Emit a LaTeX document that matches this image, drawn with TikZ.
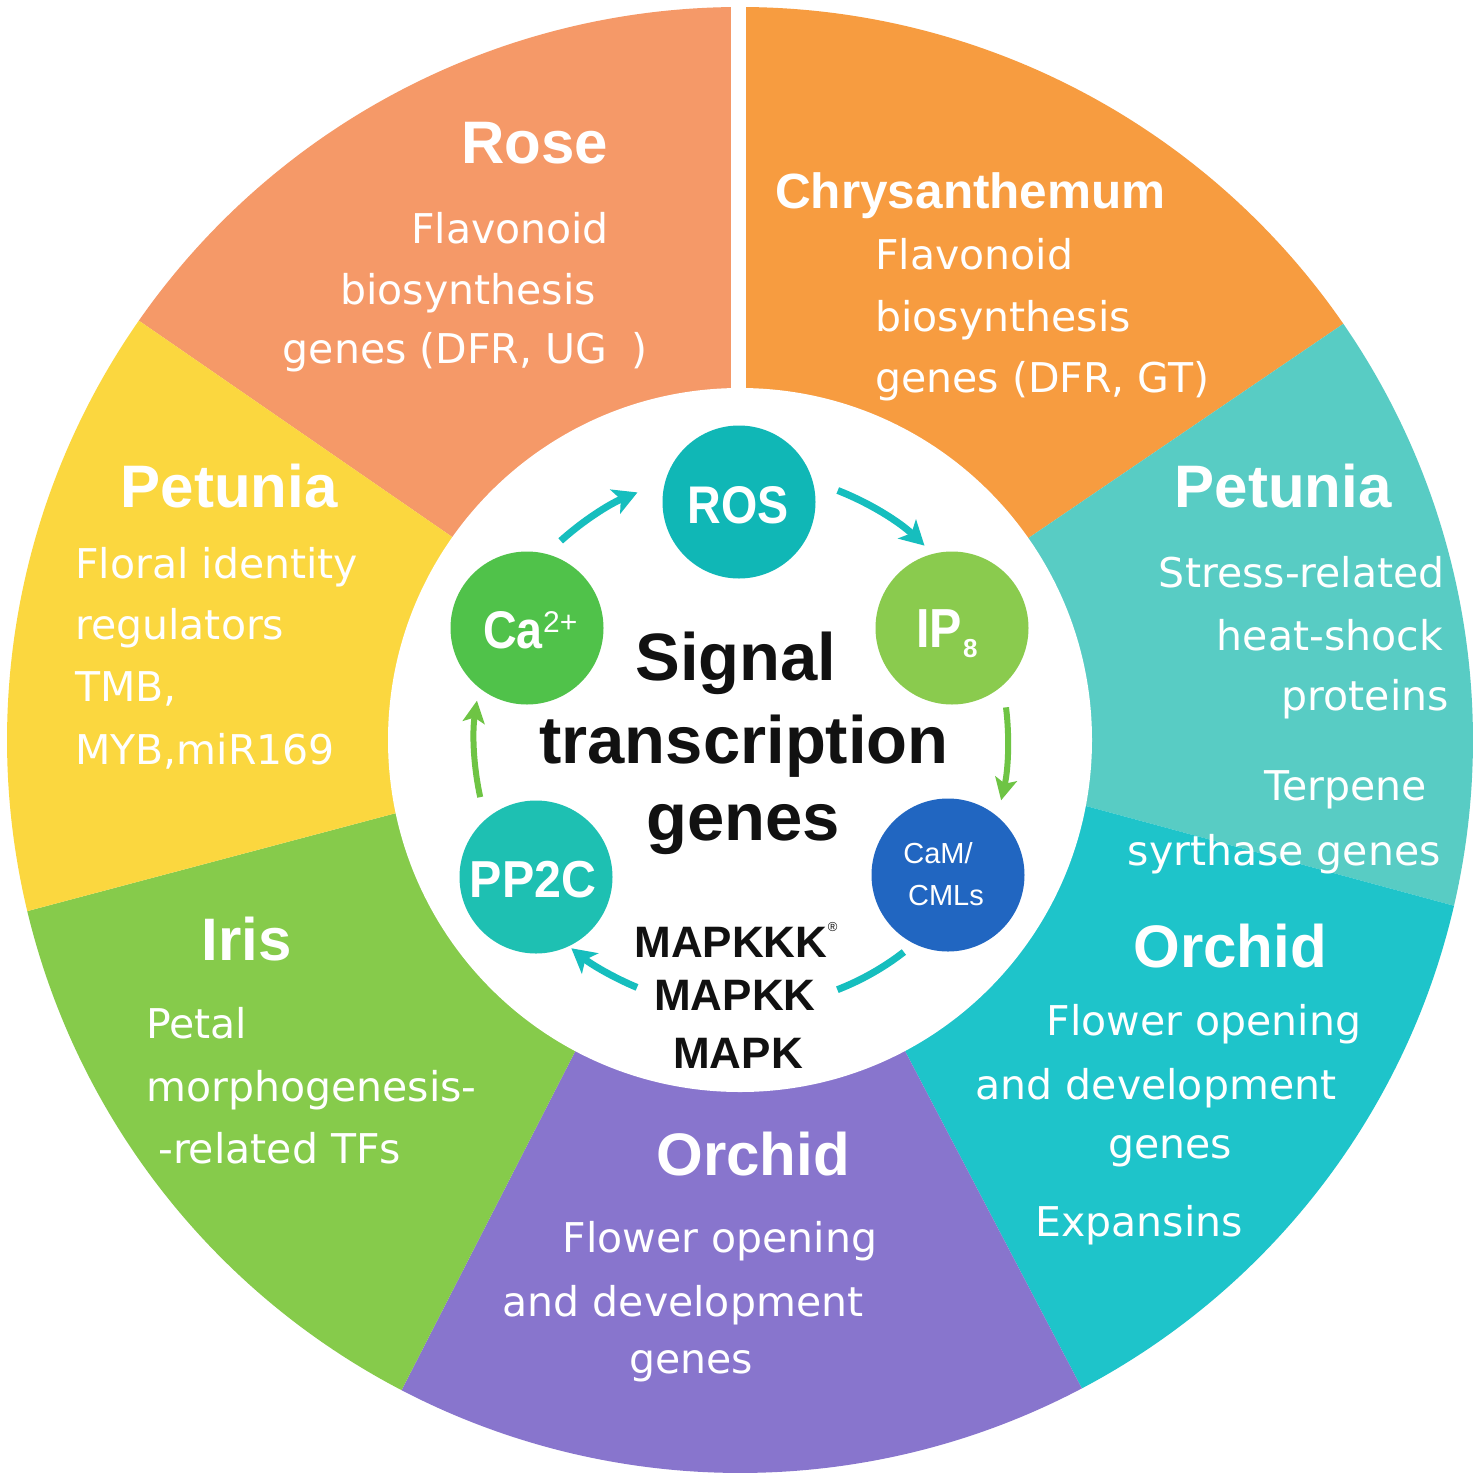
\documentclass[tikz,border=0pt]{standalone}
\usepackage{fontspec}
\setmainfont{DejaVu Sans}
\newfontfamily\lib{Liberation Sans}
\newfontfamily\libc{Liberation Sans}[FakeStretch=0.88]
\newfontfamily\libw{Liberation Sans}[FakeStretch=0.93]
\usetikzlibrary{arrows.meta}

\definecolor{roseC}{RGB}{245,153,104}
\definecolor{chrysC}{RGB}{247,156,64}
\definecolor{petRC}{RGB}{88,204,196}
\definecolor{orchRC}{RGB}{30,196,202}
\definecolor{purpC}{RGB}{136,117,205}
\definecolor{irisC}{RGB}{134,203,75}
\definecolor{petLC}{RGB}{251,215,63}
\definecolor{rosDisc}{RGB}{16,183,182}
\definecolor{ipDisc}{RGB}{138,203,78}
\definecolor{camDisc}{RGB}{33,102,193}
\definecolor{ppDisc}{RGB}{30,192,178}
\definecolor{caDisc}{RGB}{80,194,74}
\definecolor{tealArr}{RGB}{22,190,190}
\definecolor{greenArr}{RGB}{110,196,68}
\definecolor{inkC}{RGB}{17,17,17}

\newcommand\myfs[1]{\fontsize{#1}{#1}\selectfont}
\newcommand\sector[5]{%
  \fill[#1] (0,0) -- (#4:352) -- (#2:733) arc[start angle=#2, end angle=#3, radius=733] -- (#5:352) -- cycle;}

\tikzset{
  bodytxt/.style={text=white, inner sep=0pt, font=\myfs{41}},
  headtxt/.style={text=white, inner sep=0pt, font=\lib\bfseries\myfs{60}},
  disc/.style={circle, minimum size=153pt, inner sep=0pt},
  disctxt/.style={text=white, inner sep=0pt, font=\libc\bfseries\myfs{53}},
  smalltxt/.style={text=white, inner sep=0pt, font=\lib\myfs{30}},
  centertxt/.style={text=inkC, inner sep=0pt, font=\lib\bfseries\myfs{67}},
  mapktxt/.style={text=inkC, inner sep=0pt, font=\lib\bfseries\myfs{44}},
  tealarrow/.style={draw=tealArr, line width=7pt, -{Stealth[length=24pt,width=26pt,inset=6pt]}},
  tealline/.style={draw=tealArr, line width=7pt},
  greenarrow/.style={draw=greenArr, line width=6pt, -{Stealth[length=22pt,width=22pt,inset=5pt]}}
}

\begin{document}
\begin{tikzpicture}[x=1pt,y=-1pt]
\useasboundingbox (0,0) rectangle (1476,1478);
\fill[white] (0,0) rectangle (1476,1478);

\begin{scope}[shift={(740,740)}]
  \sector{roseC}{-90}{-145.1}{-90}{-144.8}
  \sector{chrysC}{-34.6}{-90}{-35}{-90}
  \sector{petRC}{13.07}{-34.6}{10.8}{-35}
  \sector{orchRC}{62.2}{13.07}{62.05}{10.8}
  \sector{purpC}{117.5}{62.2}{117.9}{62.05}
  \sector{irisC}{166.5}{117.5}{168}{117.9}
  \sector{petLC}{214.9}{166.5}{215.2}{168}
\end{scope}
\fill[white] (731,0) rectangle (746,420);
\fill[white] (740,740) circle[radius=352];

% ---- Rose
\node[headtxt, anchor=base] (roseH) at (535,163) {Rose};
\node[bodytxt, anchor=base] (rose1) at (510,243) {Flavonoid};
\node[bodytxt, anchor=base] (rose2) at (468,304) {biosynthesis};
\node[bodytxt, anchor=base] (rose3) at (465,363) {genes (DFR, UG\hspace{24pt})};

% ---- Chrysanthemum
\node[headtxt, font=\lib\bfseries\myfs{49.5}, anchor=base west] (chrH) at (775,208) {Chrysanthemum};
\node[bodytxt, anchor=base west] (chr1) at (875,269) {Flavonoid};
\node[bodytxt, anchor=base west] (chr2) at (875,331) {biosynthesis};
\node[bodytxt, anchor=base west] (chr3) at (875,392) {genes (DFR, GT)};

% ---- Petunia (right)
\node[headtxt, anchor=base] (petRH) at (1283,507) {Petunia};
\node[bodytxt, anchor=base east] (petR1) at (1445,587) {Stress-related};
\node[bodytxt, anchor=base east] (petR2) at (1443,650) {heat-shock};
\node[bodytxt, anchor=base east] (petR3) at (1449,710) {proteins};
\node[bodytxt, anchor=base east] (petR4) at (1427,800) {Terpene};
\node[bodytxt, anchor=base east] (petR5) at (1441,865) {syrthase genes};

% ---- Orchid (right)
\node[headtxt, anchor=base] (orRH) at (1230,967) {Orchid};
\node[bodytxt, anchor=base] (orR1) at (1204,1035) {Flower opening};
\node[bodytxt, anchor=base] (orR2) at (1156,1099) {and development};
\node[bodytxt, anchor=base] (orR3) at (1170,1158) {genes};
\node[bodytxt, anchor=base] (orR4) at (1139,1236) {Expansins};

% ---- Orchid (bottom)
\node[headtxt, anchor=base] (orBH) at (753,1175) {Orchid};
\node[bodytxt, anchor=base] (orB1) at (720,1252) {Flower opening};
\node[bodytxt, anchor=base] (orB2) at (683,1316) {and development};
\node[bodytxt, anchor=base] (orB3) at (691,1373) {genes};

% ---- Iris
\node[headtxt, anchor=base] (irisH) at (247,960) {Iris};
\node[bodytxt, anchor=base west] (iris1) at (146,1038) {Petal};
\node[bodytxt, anchor=base west] (iris2) at (146,1101) {morphogenesis-};
\node[bodytxt, anchor=base west] (iris3) at (158,1163) {-related TFs};

% ---- Petunia (left)
\node[headtxt, anchor=base] (petLH) at (229,507) {Petunia};
\node[bodytxt, anchor=base west] (petL1) at (75,578) {Floral identity};
\node[bodytxt, anchor=base west] (petL2) at (75,639) {regulators};
\node[bodytxt, anchor=base west] (petL3) at (75,701) {TMB,};
\node[bodytxt, anchor=base west] (petL4) at (75,764) {MYB,miR169};

% ---- discs
\node[disc, fill=rosDisc] (ros) at (739,502) {};
\node[disc, fill=ipDisc] (ip) at (952,628) {};
\node[disc, fill=camDisc] (cam) at (948,875) {};
\node[disc, fill=ppDisc] (pp) at (536,877) {};
\node[disc, fill=caDisc] (ca) at (527,628) {};

\node[disctxt, anchor=base] (rosT) at (738,523) {ROS};
\node[disctxt, anchor=base east] (caT) at (543,648) {Ca};
\node[smalltxt, anchor=base west] (caS) at (543,632) {2+};
\node[disctxt, font=\libc\bfseries\myfs{55}, anchor=base east] (ipT) at (962,647) {IP};
\node[smalltxt, font=\lib\bfseries\myfs{26}, anchor=base west] (ipS) at (963,657) {8};
\node[disctxt, font=\libw\bfseries\myfs{52}, anchor=base] (ppT) at (533,897) {PP2C};
\node[smalltxt, font=\lib\myfs{29}, anchor=base] (camT1) at (938,863) {CaM/};
\node[smalltxt, font=\lib\myfs{29}, anchor=base] (camT2) at (946,905) {CMLs};

% ---- centre text
\node[centertxt, anchor=base] (sig1) at (736,680) {Signal};
\node[centertxt, anchor=base] (sig2) at (744,763) {transcription};
\node[centertxt, anchor=base] (sig3) at (743,840) {genes};

\node[mapktxt, anchor=base] (mk1) at (731,957) {MAPKKK};
\node[text=inkC, inner sep=0pt, font=\lib\myfs{13}, anchor=west] (mkR) at (mk1.north east) {®};
\node[mapktxt, anchor=base] (mk2) at (735,1010) {MAPKK};
\node[mapktxt, anchor=base] (mk3) at (738,1068) {MAPK};

% ---- cycle arrows
\begin{scope}[shift={(740,740)}]
  \coordinate (a1) at (-132:268);
  \coordinate (a2) at (-68.6:268);
  \coordinate (a3) at (-7:268);
  \coordinate (a4) at (52.3:268);
  \coordinate (a5) at (112.6:268);
  \coordinate (a6) at (167.6:266);
  \draw[tealarrow] (a1) arc[start angle=-132, end angle=-112.5, radius=268];
  \draw[tealarrow] (a2) arc[start angle=-68.6, end angle=-46.5, radius=268];
  \draw[greenarrow] (a3) arc[start angle=-7, end angle=13, radius=268];
  \draw[tealline] (a4) arc[start angle=52.3, end angle=68.7, radius=268];
  \draw[tealarrow] (a5) arc[start angle=112.6, end angle=129, radius=268];
  \draw[greenarrow] (a6) arc[start angle=167.6, end angle=188.5, radius=266];
\end{scope}
\end{tikzpicture}
\end{document}
